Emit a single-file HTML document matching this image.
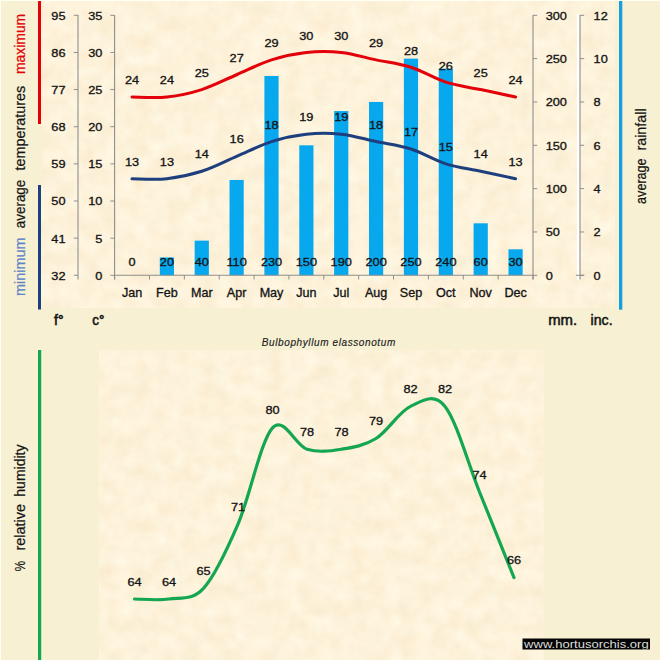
<!DOCTYPE html>
<html><head><meta charset="utf-8"><title>Bulbophyllum elassonotum</title>
<style>html,body{margin:0;padding:0;background:#f7f0d3;}body{width:660px;height:660px;overflow:hidden;}svg{display:block;font-family:"Liberation Sans", sans-serif;}</style></head><body>
<svg width="660" height="660" viewBox="0 0 660 660">
<defs><filter id="parch" x="0" y="0" width="100%" height="100%" color-interpolation-filters="sRGB"><feTurbulence type="fractalNoise" baseFrequency="0.06" numOctaves="3" seed="11" result="n"/><feColorMatrix in="n" type="matrix" values="0.04 0.012 0 0 0.966  0.065 -0.012 0 0 0.9225  0.11 -0.024 0 0 0.812  0 0 0 0 1"/><feComposite in2="SourceGraphic" operator="in"/></filter></defs>
<rect x="0" y="0" width="660" height="660" fill="#f7f0d3"/>
<rect x="0" y="0" width="660" height="1" fill="#fffff4"/>
<rect x="0" y="0" width="1" height="660" fill="#fffff4"/>
<rect x="41" y="1" width="574" height="307" fill="#fdf2da"/>
<rect x="99" y="350" width="444.5" height="310" fill="#fdf2da"/>
<rect x="41" y="1" width="574" height="307" fill="#fff" filter="url(#parch)"/><rect x="99" y="350" width="444.5" height="310" fill="#fff" filter="url(#parch)"/>
<rect x="38" y="1" width="3.0" height="123" fill="#e30009"/>
<rect x="38" y="185" width="3.0" height="124.5" fill="#1e3f7e"/>
<rect x="619" y="1" width="3.3" height="308.7" fill="#169fe0"/>
<rect x="38" y="350" width="3.2" height="310" fill="#14a651"/>
<rect x="159.80" y="257.45" width="14.20" height="17.85" fill="#07a8ee"/>
<rect x="194.67" y="240.63" width="14.20" height="34.67" fill="#07a8ee"/>
<rect x="229.53" y="179.97" width="14.20" height="95.33" fill="#07a8ee"/>
<rect x="264.40" y="75.97" width="14.20" height="199.33" fill="#07a8ee"/>
<rect x="299.27" y="145.30" width="14.20" height="130.00" fill="#07a8ee"/>
<rect x="334.13" y="111.07" width="14.20" height="164.23" fill="#07a8ee"/>
<rect x="369.00" y="101.97" width="14.20" height="173.33" fill="#07a8ee"/>
<rect x="403.87" y="58.63" width="14.20" height="216.67" fill="#07a8ee"/>
<rect x="438.73" y="68.60" width="14.20" height="206.70" fill="#07a8ee"/>
<rect x="473.60" y="223.30" width="14.20" height="52.00" fill="#07a8ee"/>
<rect x="508.47" y="249.30" width="14.20" height="26.00" fill="#07a8ee"/>
<rect x="577" y="14" width="2.6" height="266" fill="#ffffff"/>
<line x1="78.00" y1="15.00" x2="78.00" y2="279.50" stroke="#8e8e8e" stroke-width="1.1"/>
<line x1="78.00" y1="275.30" x2="73.80" y2="275.30" stroke="#8e8e8e" stroke-width="1.0"/>
<line x1="78.00" y1="238.16" x2="73.80" y2="238.16" stroke="#8e8e8e" stroke-width="1.0"/>
<line x1="78.00" y1="201.01" x2="73.80" y2="201.01" stroke="#8e8e8e" stroke-width="1.0"/>
<line x1="78.00" y1="163.87" x2="73.80" y2="163.87" stroke="#8e8e8e" stroke-width="1.0"/>
<line x1="78.00" y1="126.73" x2="73.80" y2="126.73" stroke="#8e8e8e" stroke-width="1.0"/>
<line x1="78.00" y1="89.59" x2="73.80" y2="89.59" stroke="#8e8e8e" stroke-width="1.0"/>
<line x1="78.00" y1="52.44" x2="73.80" y2="52.44" stroke="#8e8e8e" stroke-width="1.0"/>
<line x1="78.00" y1="15.30" x2="73.80" y2="15.30" stroke="#8e8e8e" stroke-width="1.0"/>
<line x1="114.60" y1="15.00" x2="114.60" y2="279.50" stroke="#8e8e8e" stroke-width="1.1"/>
<line x1="114.60" y1="275.30" x2="110.40" y2="275.30" stroke="#8e8e8e" stroke-width="1.0"/>
<line x1="114.60" y1="238.16" x2="110.40" y2="238.16" stroke="#8e8e8e" stroke-width="1.0"/>
<line x1="114.60" y1="201.01" x2="110.40" y2="201.01" stroke="#8e8e8e" stroke-width="1.0"/>
<line x1="114.60" y1="163.87" x2="110.40" y2="163.87" stroke="#8e8e8e" stroke-width="1.0"/>
<line x1="114.60" y1="126.73" x2="110.40" y2="126.73" stroke="#8e8e8e" stroke-width="1.0"/>
<line x1="114.60" y1="89.59" x2="110.40" y2="89.59" stroke="#8e8e8e" stroke-width="1.0"/>
<line x1="114.60" y1="52.44" x2="110.40" y2="52.44" stroke="#8e8e8e" stroke-width="1.0"/>
<line x1="114.60" y1="15.30" x2="110.40" y2="15.30" stroke="#8e8e8e" stroke-width="1.0"/>
<line x1="533.00" y1="15.00" x2="533.00" y2="279.50" stroke="#8e8e8e" stroke-width="1.1"/>
<line x1="533.00" y1="275.30" x2="537.20" y2="275.30" stroke="#8e8e8e" stroke-width="1.0"/>
<line x1="533.00" y1="231.97" x2="537.20" y2="231.97" stroke="#8e8e8e" stroke-width="1.0"/>
<line x1="533.00" y1="188.63" x2="537.20" y2="188.63" stroke="#8e8e8e" stroke-width="1.0"/>
<line x1="533.00" y1="145.30" x2="537.20" y2="145.30" stroke="#8e8e8e" stroke-width="1.0"/>
<line x1="533.00" y1="101.97" x2="537.20" y2="101.97" stroke="#8e8e8e" stroke-width="1.0"/>
<line x1="533.00" y1="58.63" x2="537.20" y2="58.63" stroke="#8e8e8e" stroke-width="1.0"/>
<line x1="533.00" y1="15.30" x2="537.20" y2="15.30" stroke="#8e8e8e" stroke-width="1.0"/>
<line x1="580.00" y1="15.00" x2="580.00" y2="279.50" stroke="#8e8e8e" stroke-width="1.1"/>
<line x1="580.00" y1="275.30" x2="584.20" y2="275.30" stroke="#8e8e8e" stroke-width="1.0"/>
<line x1="580.00" y1="231.97" x2="584.20" y2="231.97" stroke="#8e8e8e" stroke-width="1.0"/>
<line x1="580.00" y1="188.63" x2="584.20" y2="188.63" stroke="#8e8e8e" stroke-width="1.0"/>
<line x1="580.00" y1="145.30" x2="584.20" y2="145.30" stroke="#8e8e8e" stroke-width="1.0"/>
<line x1="580.00" y1="101.97" x2="584.20" y2="101.97" stroke="#8e8e8e" stroke-width="1.0"/>
<line x1="580.00" y1="58.63" x2="584.20" y2="58.63" stroke="#8e8e8e" stroke-width="1.0"/>
<line x1="580.00" y1="15.30" x2="584.20" y2="15.30" stroke="#8e8e8e" stroke-width="1.0"/>
<line x1="114.60" y1="275.30" x2="533.00" y2="275.30" stroke="#8e8e8e" stroke-width="1.1"/>
<line x1="114.60" y1="275.30" x2="114.60" y2="279.50" stroke="#8e8e8e" stroke-width="1.0"/>
<line x1="149.47" y1="275.30" x2="149.47" y2="279.50" stroke="#8e8e8e" stroke-width="1.0"/>
<line x1="184.33" y1="275.30" x2="184.33" y2="279.50" stroke="#8e8e8e" stroke-width="1.0"/>
<line x1="219.20" y1="275.30" x2="219.20" y2="279.50" stroke="#8e8e8e" stroke-width="1.0"/>
<line x1="254.07" y1="275.30" x2="254.07" y2="279.50" stroke="#8e8e8e" stroke-width="1.0"/>
<line x1="288.93" y1="275.30" x2="288.93" y2="279.50" stroke="#8e8e8e" stroke-width="1.0"/>
<line x1="323.80" y1="275.30" x2="323.80" y2="279.50" stroke="#8e8e8e" stroke-width="1.0"/>
<line x1="358.67" y1="275.30" x2="358.67" y2="279.50" stroke="#8e8e8e" stroke-width="1.0"/>
<line x1="393.53" y1="275.30" x2="393.53" y2="279.50" stroke="#8e8e8e" stroke-width="1.0"/>
<line x1="428.40" y1="275.30" x2="428.40" y2="279.50" stroke="#8e8e8e" stroke-width="1.0"/>
<line x1="463.27" y1="275.30" x2="463.27" y2="279.50" stroke="#8e8e8e" stroke-width="1.0"/>
<line x1="498.13" y1="275.30" x2="498.13" y2="279.50" stroke="#8e8e8e" stroke-width="1.0"/>
<line x1="533.00" y1="275.30" x2="533.00" y2="279.50" stroke="#8e8e8e" stroke-width="1.0"/>
<line x1="576.00" y1="275.30" x2="584.20" y2="275.30" stroke="#8e8e8e" stroke-width="1.0"/>
<text transform="translate(65.50 279.65) scale(1.09 1)" font-size="11.7" text-anchor="end" fill="#141414" stroke="#141414" stroke-width="0.32">32</text>
<text transform="translate(102.30 279.65) scale(1.09 1)" font-size="11.7" text-anchor="end" fill="#141414" stroke="#141414" stroke-width="0.32">0</text>
<text transform="translate(65.50 242.51) scale(1.09 1)" font-size="11.7" text-anchor="end" fill="#141414" stroke="#141414" stroke-width="0.32">41</text>
<text transform="translate(102.30 242.51) scale(1.09 1)" font-size="11.7" text-anchor="end" fill="#141414" stroke="#141414" stroke-width="0.32">5</text>
<text transform="translate(65.50 205.36) scale(1.09 1)" font-size="11.7" text-anchor="end" fill="#141414" stroke="#141414" stroke-width="0.32">50</text>
<text transform="translate(102.30 205.36) scale(1.09 1)" font-size="11.7" text-anchor="end" fill="#141414" stroke="#141414" stroke-width="0.32">10</text>
<text transform="translate(65.50 168.22) scale(1.09 1)" font-size="11.7" text-anchor="end" fill="#141414" stroke="#141414" stroke-width="0.32">59</text>
<text transform="translate(102.30 168.22) scale(1.09 1)" font-size="11.7" text-anchor="end" fill="#141414" stroke="#141414" stroke-width="0.32">15</text>
<text transform="translate(65.50 131.08) scale(1.09 1)" font-size="11.7" text-anchor="end" fill="#141414" stroke="#141414" stroke-width="0.32">68</text>
<text transform="translate(102.30 131.08) scale(1.09 1)" font-size="11.7" text-anchor="end" fill="#141414" stroke="#141414" stroke-width="0.32">20</text>
<text transform="translate(65.50 93.94) scale(1.09 1)" font-size="11.7" text-anchor="end" fill="#141414" stroke="#141414" stroke-width="0.32">77</text>
<text transform="translate(102.30 93.94) scale(1.09 1)" font-size="11.7" text-anchor="end" fill="#141414" stroke="#141414" stroke-width="0.32">25</text>
<text transform="translate(65.50 56.79) scale(1.09 1)" font-size="11.7" text-anchor="end" fill="#141414" stroke="#141414" stroke-width="0.32">86</text>
<text transform="translate(102.30 56.79) scale(1.09 1)" font-size="11.7" text-anchor="end" fill="#141414" stroke="#141414" stroke-width="0.32">30</text>
<text transform="translate(65.50 19.65) scale(1.09 1)" font-size="11.7" text-anchor="end" fill="#141414" stroke="#141414" stroke-width="0.32">95</text>
<text transform="translate(102.30 19.65) scale(1.09 1)" font-size="11.7" text-anchor="end" fill="#141414" stroke="#141414" stroke-width="0.32">35</text>
<text transform="translate(545.70 279.65) scale(1.09 1)" font-size="11.7" text-anchor="start" fill="#141414" stroke="#141414" stroke-width="0.32">0</text>
<text transform="translate(593.60 279.65) scale(1.09 1)" font-size="11.7" text-anchor="start" fill="#141414" stroke="#141414" stroke-width="0.32">0</text>
<text transform="translate(545.70 236.32) scale(1.09 1)" font-size="11.7" text-anchor="start" fill="#141414" stroke="#141414" stroke-width="0.32">50</text>
<text transform="translate(593.60 236.32) scale(1.09 1)" font-size="11.7" text-anchor="start" fill="#141414" stroke="#141414" stroke-width="0.32">2</text>
<text transform="translate(545.70 192.98) scale(1.09 1)" font-size="11.7" text-anchor="start" fill="#141414" stroke="#141414" stroke-width="0.32">100</text>
<text transform="translate(593.60 192.98) scale(1.09 1)" font-size="11.7" text-anchor="start" fill="#141414" stroke="#141414" stroke-width="0.32">4</text>
<text transform="translate(545.70 149.65) scale(1.09 1)" font-size="11.7" text-anchor="start" fill="#141414" stroke="#141414" stroke-width="0.32">150</text>
<text transform="translate(593.60 149.65) scale(1.09 1)" font-size="11.7" text-anchor="start" fill="#141414" stroke="#141414" stroke-width="0.32">6</text>
<text transform="translate(545.70 106.32) scale(1.09 1)" font-size="11.7" text-anchor="start" fill="#141414" stroke="#141414" stroke-width="0.32">200</text>
<text transform="translate(593.60 106.32) scale(1.09 1)" font-size="11.7" text-anchor="start" fill="#141414" stroke="#141414" stroke-width="0.32">8</text>
<text transform="translate(545.70 62.98) scale(1.09 1)" font-size="11.7" text-anchor="start" fill="#141414" stroke="#141414" stroke-width="0.32">250</text>
<text transform="translate(593.60 62.98) scale(1.09 1)" font-size="11.7" text-anchor="start" fill="#141414" stroke="#141414" stroke-width="0.32">10</text>
<text transform="translate(545.70 19.65) scale(1.09 1)" font-size="11.7" text-anchor="start" fill="#141414" stroke="#141414" stroke-width="0.32">300</text>
<text transform="translate(593.60 19.65) scale(1.09 1)" font-size="11.7" text-anchor="start" fill="#141414" stroke="#141414" stroke-width="0.32">12</text>
<text transform="translate(132.03 296.80) scale(1.04 1)" font-size="12.1" text-anchor="middle" fill="#141414" stroke="#141414" stroke-width="0.32">Jan</text>
<text transform="translate(166.90 296.80) scale(1.04 1)" font-size="12.1" text-anchor="middle" fill="#141414" stroke="#141414" stroke-width="0.32">Feb</text>
<text transform="translate(201.77 296.80) scale(1.04 1)" font-size="12.1" text-anchor="middle" fill="#141414" stroke="#141414" stroke-width="0.32">Mar</text>
<text transform="translate(236.63 296.80) scale(1.04 1)" font-size="12.1" text-anchor="middle" fill="#141414" stroke="#141414" stroke-width="0.32">Apr</text>
<text transform="translate(271.50 296.80) scale(1.04 1)" font-size="12.1" text-anchor="middle" fill="#141414" stroke="#141414" stroke-width="0.32">May</text>
<text transform="translate(306.37 296.80) scale(1.04 1)" font-size="12.1" text-anchor="middle" fill="#141414" stroke="#141414" stroke-width="0.32">Jun</text>
<text transform="translate(341.23 296.80) scale(1.04 1)" font-size="12.1" text-anchor="middle" fill="#141414" stroke="#141414" stroke-width="0.32">Jul</text>
<text transform="translate(376.10 296.80) scale(1.04 1)" font-size="12.1" text-anchor="middle" fill="#141414" stroke="#141414" stroke-width="0.32">Aug</text>
<text transform="translate(410.97 296.80) scale(1.04 1)" font-size="12.1" text-anchor="middle" fill="#141414" stroke="#141414" stroke-width="0.32">Sep</text>
<text transform="translate(445.83 296.80) scale(1.04 1)" font-size="12.1" text-anchor="middle" fill="#141414" stroke="#141414" stroke-width="0.32">Oct</text>
<text transform="translate(480.70 296.80) scale(1.04 1)" font-size="12.1" text-anchor="middle" fill="#141414" stroke="#141414" stroke-width="0.32">Nov</text>
<text transform="translate(515.57 296.80) scale(1.04 1)" font-size="12.1" text-anchor="middle" fill="#141414" stroke="#141414" stroke-width="0.32">Dec</text>
<text transform="translate(132.03 266.10) scale(1.09 1)" font-size="11.7" text-anchor="middle" fill="#141414" stroke="#141414" stroke-width="0.32">0</text>
<text transform="translate(166.90 266.10) scale(1.09 1)" font-size="11.7" text-anchor="middle" fill="#141414" stroke="#141414" stroke-width="0.32">20</text>
<text transform="translate(201.77 266.10) scale(1.09 1)" font-size="11.7" text-anchor="middle" fill="#141414" stroke="#141414" stroke-width="0.32">40</text>
<text transform="translate(236.63 266.10) scale(1.09 1)" font-size="11.7" text-anchor="middle" fill="#141414" stroke="#141414" stroke-width="0.32">110</text>
<text transform="translate(271.50 266.10) scale(1.09 1)" font-size="11.7" text-anchor="middle" fill="#141414" stroke="#141414" stroke-width="0.32">230</text>
<text transform="translate(306.37 266.10) scale(1.09 1)" font-size="11.7" text-anchor="middle" fill="#141414" stroke="#141414" stroke-width="0.32">150</text>
<text transform="translate(341.23 266.10) scale(1.09 1)" font-size="11.7" text-anchor="middle" fill="#141414" stroke="#141414" stroke-width="0.32">190</text>
<text transform="translate(376.10 266.10) scale(1.09 1)" font-size="11.7" text-anchor="middle" fill="#141414" stroke="#141414" stroke-width="0.32">200</text>
<text transform="translate(410.97 266.10) scale(1.09 1)" font-size="11.7" text-anchor="middle" fill="#141414" stroke="#141414" stroke-width="0.32">250</text>
<text transform="translate(445.83 266.10) scale(1.09 1)" font-size="11.7" text-anchor="middle" fill="#141414" stroke="#141414" stroke-width="0.32">240</text>
<text transform="translate(480.70 266.10) scale(1.09 1)" font-size="11.7" text-anchor="middle" fill="#141414" stroke="#141414" stroke-width="0.32">60</text>
<text transform="translate(515.57 266.10) scale(1.09 1)" font-size="11.7" text-anchor="middle" fill="#141414" stroke="#141414" stroke-width="0.32">30</text>
<path d="M132.03,97.01 C137.84,97.01 155.28,98.25 166.90,97.01 C178.52,95.78 190.14,93.30 201.77,89.59 C213.39,85.87 225.01,79.68 236.63,74.73 C248.26,69.78 259.88,63.59 271.50,59.87 C283.12,56.16 294.74,53.68 306.37,52.44 C317.99,51.20 329.61,51.20 341.23,52.44 C352.86,53.68 364.48,57.40 376.10,59.87 C387.72,62.35 399.34,63.59 410.97,67.30 C422.59,71.01 434.21,78.44 445.83,82.16 C457.46,85.87 469.08,87.11 480.70,89.59 C492.32,92.06 509.76,95.78 515.57,97.01" fill="none" stroke="#e30009" stroke-width="3.05" stroke-linecap="round"/>
<path d="M132.03,178.73 C137.84,178.73 155.28,179.97 166.90,178.73 C178.52,177.49 190.14,175.01 201.77,171.30 C213.39,167.59 225.01,161.40 236.63,156.44 C248.26,151.49 259.88,145.30 271.50,141.59 C283.12,137.87 294.74,135.40 306.37,134.16 C317.99,132.92 329.61,132.92 341.23,134.16 C352.86,135.40 364.48,139.11 376.10,141.59 C387.72,144.06 399.34,145.30 410.97,149.01 C422.59,152.73 434.21,160.16 445.83,163.87 C457.46,167.59 469.08,168.82 480.70,171.30 C492.32,173.78 509.76,177.49 515.57,178.73" fill="none" stroke="#1e3f7e" stroke-width="3.05" stroke-linecap="round"/>
<text transform="translate(132.03 84.41) scale(1.09 1)" font-size="11.7" text-anchor="middle" fill="#141414" stroke="#141414" stroke-width="0.32">24</text>
<text transform="translate(166.90 84.41) scale(1.09 1)" font-size="11.7" text-anchor="middle" fill="#141414" stroke="#141414" stroke-width="0.32">24</text>
<text transform="translate(201.77 76.99) scale(1.09 1)" font-size="11.7" text-anchor="middle" fill="#141414" stroke="#141414" stroke-width="0.32">25</text>
<text transform="translate(236.63 62.13) scale(1.09 1)" font-size="11.7" text-anchor="middle" fill="#141414" stroke="#141414" stroke-width="0.32">27</text>
<text transform="translate(271.50 47.27) scale(1.09 1)" font-size="11.7" text-anchor="middle" fill="#141414" stroke="#141414" stroke-width="0.32">29</text>
<text transform="translate(306.37 39.84) scale(1.09 1)" font-size="11.7" text-anchor="middle" fill="#141414" stroke="#141414" stroke-width="0.32">30</text>
<text transform="translate(341.23 39.84) scale(1.09 1)" font-size="11.7" text-anchor="middle" fill="#141414" stroke="#141414" stroke-width="0.32">30</text>
<text transform="translate(376.10 47.27) scale(1.09 1)" font-size="11.7" text-anchor="middle" fill="#141414" stroke="#141414" stroke-width="0.32">29</text>
<text transform="translate(410.97 54.70) scale(1.09 1)" font-size="11.7" text-anchor="middle" fill="#141414" stroke="#141414" stroke-width="0.32">28</text>
<text transform="translate(445.83 69.56) scale(1.09 1)" font-size="11.7" text-anchor="middle" fill="#141414" stroke="#141414" stroke-width="0.32">26</text>
<text transform="translate(480.70 76.99) scale(1.09 1)" font-size="11.7" text-anchor="middle" fill="#141414" stroke="#141414" stroke-width="0.32">25</text>
<text transform="translate(515.57 84.41) scale(1.09 1)" font-size="11.7" text-anchor="middle" fill="#141414" stroke="#141414" stroke-width="0.32">24</text>
<text transform="translate(132.03 165.73) scale(1.09 1)" font-size="11.7" text-anchor="middle" fill="#141414" stroke="#141414" stroke-width="0.32">13</text>
<text transform="translate(166.90 165.73) scale(1.09 1)" font-size="11.7" text-anchor="middle" fill="#141414" stroke="#141414" stroke-width="0.32">13</text>
<text transform="translate(201.77 158.30) scale(1.09 1)" font-size="11.7" text-anchor="middle" fill="#141414" stroke="#141414" stroke-width="0.32">14</text>
<text transform="translate(236.63 143.44) scale(1.09 1)" font-size="11.7" text-anchor="middle" fill="#141414" stroke="#141414" stroke-width="0.32">16</text>
<text transform="translate(271.50 128.59) scale(1.09 1)" font-size="11.7" text-anchor="middle" fill="#141414" stroke="#141414" stroke-width="0.32">18</text>
<text transform="translate(306.37 121.16) scale(1.09 1)" font-size="11.7" text-anchor="middle" fill="#141414" stroke="#141414" stroke-width="0.32">19</text>
<text transform="translate(341.23 121.16) scale(1.09 1)" font-size="11.7" text-anchor="middle" fill="#141414" stroke="#141414" stroke-width="0.32">19</text>
<text transform="translate(376.10 128.59) scale(1.09 1)" font-size="11.7" text-anchor="middle" fill="#141414" stroke="#141414" stroke-width="0.32">18</text>
<text transform="translate(410.97 136.01) scale(1.09 1)" font-size="11.7" text-anchor="middle" fill="#141414" stroke="#141414" stroke-width="0.32">17</text>
<text transform="translate(445.83 150.87) scale(1.09 1)" font-size="11.7" text-anchor="middle" fill="#141414" stroke="#141414" stroke-width="0.32">15</text>
<text transform="translate(480.70 158.30) scale(1.09 1)" font-size="11.7" text-anchor="middle" fill="#141414" stroke="#141414" stroke-width="0.32">14</text>
<text transform="translate(515.57 165.73) scale(1.09 1)" font-size="11.7" text-anchor="middle" fill="#141414" stroke="#141414" stroke-width="0.32">13</text>
<text transform="translate(54.00 325.00) scale(1.0 1)" font-size="14.2" text-anchor="start" fill="#141414" stroke="#141414" stroke-width="0.55">f°</text>
<text transform="translate(92.30 325.00) scale(0.95 1)" font-size="14.2" text-anchor="start" fill="#141414" stroke="#141414" stroke-width="0.55">c°</text>
<text transform="translate(548.20 325.00) scale(1.05 1)" font-size="14.2" text-anchor="start" fill="#141414" stroke="#141414" stroke-width="0.5">mm.</text>
<text transform="translate(590.60 325.00) scale(1.01 1)" font-size="14.0" text-anchor="start" fill="#141414" stroke="#141414" stroke-width="0.5">inc.</text>
<text x="25.20" y="296.00" font-size="14.2" text-anchor="start" fill="#5a84c6" stroke="#5a84c6" stroke-width="0.22" transform="rotate(-90 25.20 296.00)" textLength="58.6" lengthAdjust="spacingAndGlyphs">minimum</text>
<text x="25.20" y="228.20" font-size="14.2" text-anchor="start" fill="#141414" stroke="#141414" stroke-width="0.22" transform="rotate(-90 25.20 228.20)" textLength="48.5" lengthAdjust="spacingAndGlyphs">average</text>
<text x="25.20" y="170.60" font-size="14.2" text-anchor="start" fill="#141414" stroke="#141414" stroke-width="0.22" transform="rotate(-90 25.20 170.60)" textLength="84.8" lengthAdjust="spacingAndGlyphs">temperatures</text>
<text x="25.20" y="74.00" font-size="14.2" text-anchor="start" fill="#e30009" stroke="#e30009" stroke-width="0.22" transform="rotate(-90 25.20 74.00)" textLength="60.2" lengthAdjust="spacingAndGlyphs">maximum</text>
<text x="646.20" y="203.90" font-size="14.2" text-anchor="start" fill="#141414" stroke="#141414" stroke-width="0.22" transform="rotate(-90 646.20 203.90)" textLength="45.5" lengthAdjust="spacingAndGlyphs">average</text>
<text x="646.20" y="150.50" font-size="14.2" text-anchor="start" fill="#141414" stroke="#141414" stroke-width="0.22" transform="rotate(-90 646.20 150.50)" textLength="42.1" lengthAdjust="spacingAndGlyphs">rainfall</text>
<text x="25.20" y="571.30" font-size="14.2" text-anchor="start" fill="#141414" stroke="#141414" stroke-width="0.22" transform="rotate(-90 25.20 571.30)" textLength="10.4" lengthAdjust="spacingAndGlyphs">%</text>
<text x="25.20" y="550.50" font-size="14.2" text-anchor="start" fill="#141414" stroke="#141414" stroke-width="0.22" transform="rotate(-90 25.20 550.50)" textLength="46.5" lengthAdjust="spacingAndGlyphs">relative</text>
<text x="25.20" y="496.70" font-size="14.2" text-anchor="start" fill="#141414" stroke="#141414" stroke-width="0.22" transform="rotate(-90 25.20 496.70)" textLength="52.2" lengthAdjust="spacingAndGlyphs">humidity</text>
<text transform="translate(328.50 345.80) scale(1.0 1)" font-size="10.0" text-anchor="middle" fill="#1c1c1c" stroke="#1c1c1c" stroke-width="0.15" font-style="italic" textLength="133.5" lengthAdjust="spacing">Bulbophyllum elassonotum</text>
<path d="M134.50,599.00 C140.25,599.00 157.50,600.78 169.00,599.00 C180.50,597.22 192.00,600.78 203.50,588.30 C215.00,575.82 226.50,550.85 238.00,524.10 C249.50,497.35 261.00,440.28 272.50,427.80 C284.00,415.32 295.50,445.63 307.00,449.20 C318.50,452.77 330.00,450.98 341.50,449.20 C353.00,447.42 364.50,445.63 376.00,438.50 C387.50,431.37 399.00,411.75 410.50,406.40 C422.00,401.05 433.50,392.13 445.00,406.40 C456.50,420.67 468.00,463.47 479.50,492.00 C491.00,520.53 508.25,563.33 514.00,577.60" fill="none" stroke="#14a651" stroke-width="3.2" stroke-linecap="round"/>
<text transform="translate(134.50 585.60) scale(1.09 1)" font-size="11.7" text-anchor="middle" fill="#141414" stroke="#141414" stroke-width="0.32">64</text>
<text transform="translate(169.00 585.60) scale(1.09 1)" font-size="11.7" text-anchor="middle" fill="#141414" stroke="#141414" stroke-width="0.32">64</text>
<text transform="translate(203.50 574.90) scale(1.09 1)" font-size="11.7" text-anchor="middle" fill="#141414" stroke="#141414" stroke-width="0.32">65</text>
<text transform="translate(238.00 510.70) scale(1.09 1)" font-size="11.7" text-anchor="middle" fill="#141414" stroke="#141414" stroke-width="0.32">71</text>
<text transform="translate(272.50 414.40) scale(1.09 1)" font-size="11.7" text-anchor="middle" fill="#141414" stroke="#141414" stroke-width="0.32">80</text>
<text transform="translate(307.00 435.80) scale(1.09 1)" font-size="11.7" text-anchor="middle" fill="#141414" stroke="#141414" stroke-width="0.32">78</text>
<text transform="translate(341.50 435.80) scale(1.09 1)" font-size="11.7" text-anchor="middle" fill="#141414" stroke="#141414" stroke-width="0.32">78</text>
<text transform="translate(376.00 425.10) scale(1.09 1)" font-size="11.7" text-anchor="middle" fill="#141414" stroke="#141414" stroke-width="0.32">79</text>
<text transform="translate(410.50 393.00) scale(1.09 1)" font-size="11.7" text-anchor="middle" fill="#141414" stroke="#141414" stroke-width="0.32">82</text>
<text transform="translate(445.00 393.00) scale(1.09 1)" font-size="11.7" text-anchor="middle" fill="#141414" stroke="#141414" stroke-width="0.32">82</text>
<text transform="translate(479.50 478.60) scale(1.09 1)" font-size="11.7" text-anchor="middle" fill="#141414" stroke="#141414" stroke-width="0.32">74</text>
<text transform="translate(514.00 564.20) scale(1.09 1)" font-size="11.7" text-anchor="middle" fill="#141414" stroke="#141414" stroke-width="0.32">66</text>
<rect x="522.5" y="638.5" width="127.5" height="11" fill="#050505"/>
<svg x="522.5" y="638.5" width="127.5" height="11" overflow="hidden"><text x="1.6" y="9.3" font-size="11.3" fill="#dcdcdc" textLength="124.6" lengthAdjust="spacingAndGlyphs">www.hortusorchis.org</text></svg>
</svg></body></html>
